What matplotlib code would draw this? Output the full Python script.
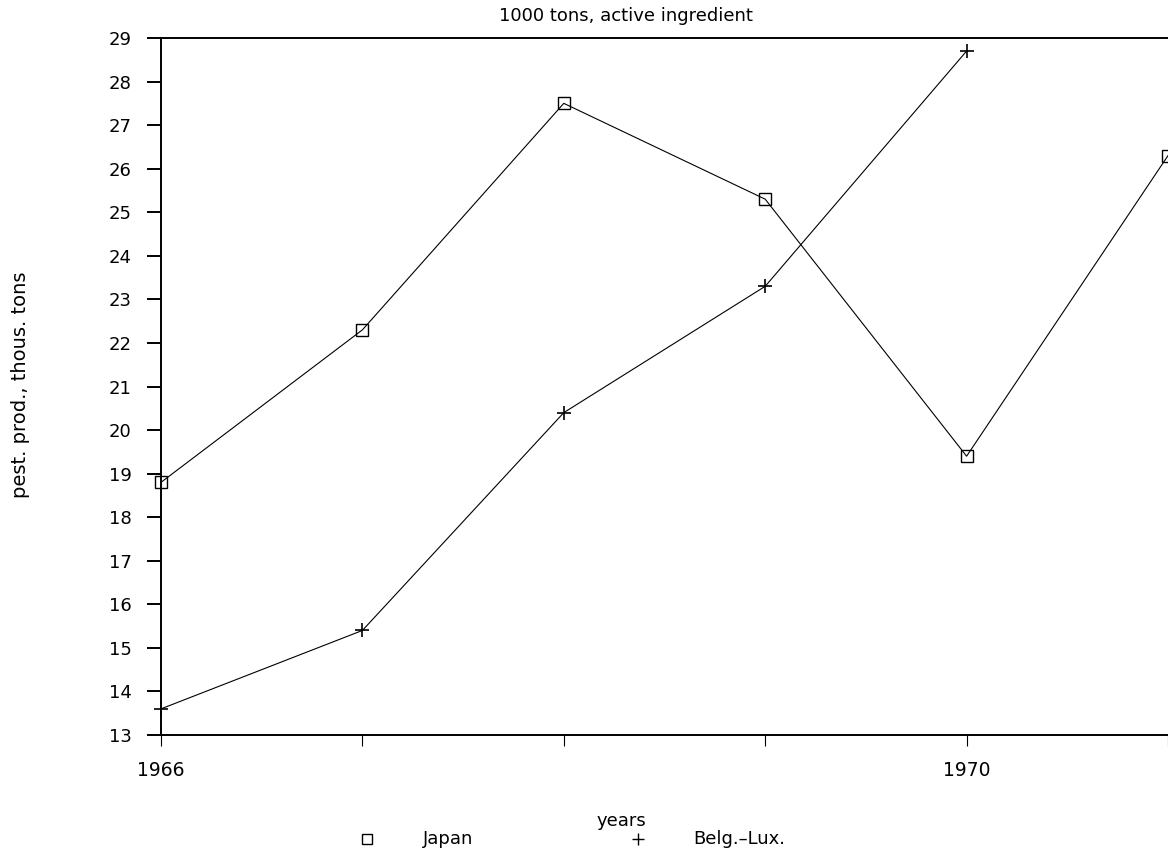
import matplotlib
matplotlib.use("Agg")
import matplotlib.pyplot as plt
from matplotlib.lines import Line2D

years = [1966, 1967, 1968, 1969, 1970, 1971]
japan = [18.8, 22.3, 27.5, 25.3, 19.4, 26.3]
belg_years = [1966, 1967, 1968, 1969, 1970]
belg_lux = [13.6, 15.4, 20.4, 23.3, 28.7]
yticks = list(range(13, 30))
xtick_labels = ["1966", "", "", "", "1970", ""]

plt.rcParams["font.family"] = ["DejaVu Sans"]

W, H = 1168, 852
fig = plt.figure(figsize=(W / 100, H / 100), dpi=100)
ax = fig.add_axes([161 / W, 1 - 735 / H, 1 - 161 / W, (735 - 38) / H])

ax.plot(years, japan, color="black", lw=0.8, marker="s", ms=8.5,
        mfc="none", mec="black", mew=1.0, clip_on=False)
ax.plot(belg_years, belg_lux, color="black", lw=0.8, marker="+", ms=9.5,
        mew=1.2, clip_on=False)

ax.set_xlim(1966, 1971)
ax.set_ylim(13, 29)
ax.set_yticks(yticks)
ax.set_xticks(years)
ax.set_xticklabels(xtick_labels)

ax.spines["right"].set_visible(False)
for side in ["left", "top", "bottom"]:
    ax.spines[side].set_linewidth(1.4)

ax.tick_params(axis="y", direction="out", length=10, width=1.4,
               labelsize=13, pad=11)
ax.tick_params(axis="x", direction="out", length=8, width=0.8,
               labelsize=13.5, pad=11)

# titles and axis names placed in figure pixels
def ftext(x, y, s, **kw):
    fig.text(x / W, 1 - y / H, s, ha="center", va="center", **kw)

ftext(626, 16, "1000 tons, active ingredient", fontsize=13)
ftext(21, 385, "pest. prod., thous. tons", fontsize=14, rotation=90)
ftext(621, 821, "years", fontsize=13)

# legend row under the x label
fig.add_artist(Line2D([367 / W], [1 - 839 / H], ls="none", marker="s",
                      ms=7, mfc="none", mec="black", mew=1.0))
fig.text(423 / W, 1 - 839 / H, "Japan", ha="left", va="center", fontsize=13)
fig.add_artist(Line2D([638 / W], [1 - 839 / H], ls="none", marker="+",
                      ms=8, mec="black", mew=1.0))
fig.text(693 / W, 1 - 839 / H, "Belg.\u2013Lux.", ha="left", va="center",
         fontsize=13)

fig.savefig("out.png", dpi=100)
